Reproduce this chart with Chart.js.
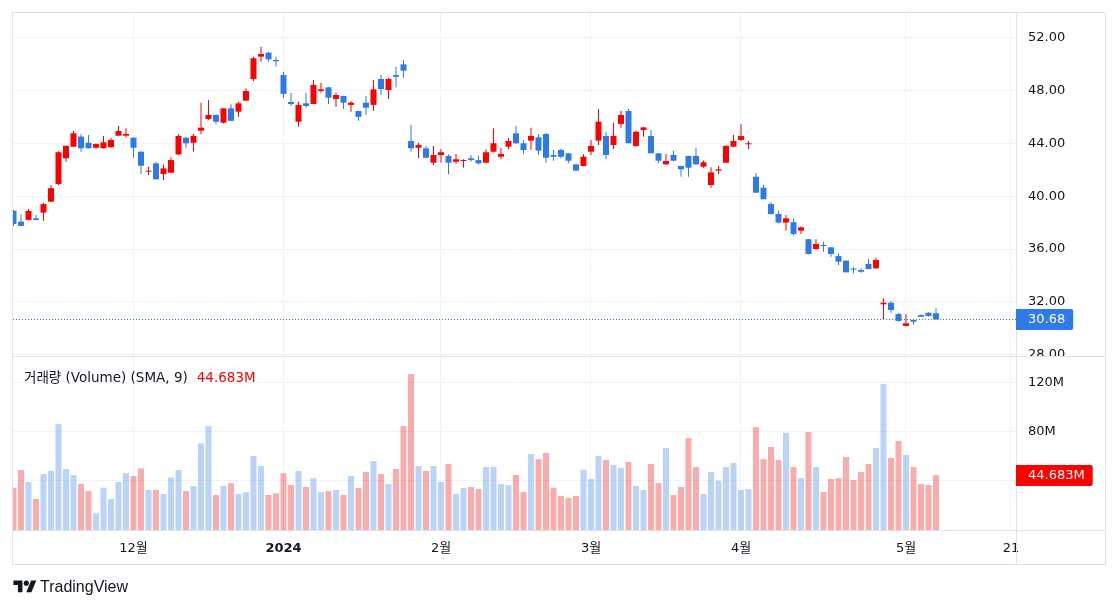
<!DOCTYPE html>
<html><head><meta charset="utf-8">
<script src="https://cdn.jsdelivr.net/npm/chart.js@4"></script>
<style>
html,body{margin:0;padding:0;background:#fff;}
#wrap{position:relative;width:1118px;height:609px;overflow:hidden;background:#fff;}
#c{position:absolute;left:0;top:0;}
#legend{position:absolute;left:24px;top:368px;font:13.5px 'DejaVu Sans','Noto Sans CJK KR',sans-serif;color:#131722;white-space:nowrap;line-height:18px;}
#legend .v{color:#ff0000;margin-left:9px;}
#logo{position:absolute;left:13px;top:577px;height:20px;display:flex;align-items:center;font:16px 'Liberation Sans',sans-serif;color:#131722;}
#logo svg{margin-right:3px;}
</style></head>
<body><div id="wrap"><canvas id="c" width="1118" height="609"></canvas>
<div id="legend"><span id="ltext">거래량 (Volume) (SMA, 9)</span><span class="v" id="lval"></span></div>
<div id="logo"><svg width="24" height="18" viewBox="0 0 36 28"><path d="M14 22H7V11H0V4h14v18zM28 22h-8l7.5-18h8L28 22z" fill="#131722"/><circle cx="20" cy="8" r="4" fill="#131722"/></svg>TradingView</div>
</div>
<script>
// ---- data ----
const dates = [
 '2023-11-08','2023-11-09','2023-11-10','2023-11-13','2023-11-14','2023-11-15','2023-11-16','2023-11-17','2023-11-20','2023-11-21','2023-11-22','2023-11-24','2023-11-27','2023-11-28','2023-11-29','2023-11-30',
 '2023-12-01','2023-12-04','2023-12-05','2023-12-06','2023-12-07','2023-12-08','2023-12-11','2023-12-12','2023-12-13','2023-12-14','2023-12-15','2023-12-18','2023-12-19','2023-12-20','2023-12-21','2023-12-22','2023-12-26','2023-12-27','2023-12-28','2023-12-29',
 '2024-01-02','2024-01-03','2024-01-04','2024-01-05','2024-01-08','2024-01-09','2024-01-10','2024-01-11','2024-01-12','2024-01-16','2024-01-17','2024-01-18','2024-01-19','2024-01-22','2024-01-23','2024-01-24','2024-01-25','2024-01-26','2024-01-29','2024-01-30','2024-01-31',
 '2024-02-01','2024-02-02','2024-02-05','2024-02-06','2024-02-07','2024-02-08','2024-02-09','2024-02-12','2024-02-13','2024-02-14','2024-02-15','2024-02-16','2024-02-20','2024-02-21','2024-02-22','2024-02-23','2024-02-26','2024-02-27','2024-02-28','2024-02-29',
 '2024-03-01','2024-03-04','2024-03-05','2024-03-06','2024-03-07','2024-03-08','2024-03-11','2024-03-12','2024-03-13','2024-03-14','2024-03-15','2024-03-18','2024-03-19','2024-03-20','2024-03-21','2024-03-22','2024-03-25','2024-03-26','2024-03-27','2024-03-28',
 '2024-04-01','2024-04-02','2024-04-03','2024-04-04','2024-04-05','2024-04-08','2024-04-09','2024-04-10','2024-04-11','2024-04-12','2024-04-15','2024-04-16','2024-04-17','2024-04-18','2024-04-19','2024-04-22','2024-04-23','2024-04-24','2024-04-25','2024-04-26','2024-04-29','2024-04-30',
 '2024-05-01','2024-05-02','2024-05-03','2024-05-06','2024-05-07'
];
const open = [
 38.90,38.07,38.20,38.32,38.75,39.58,40.92,42.86,43.74,44.50,44.04,43.66,43.62,43.70,44.57,44.57,
 44.42,43.36,41.85,42.48,41.67,41.77,43.16,44.42,44.04,44.95,45.84,46.14,45.56,46.64,46.39,47.22,48.86,50.55,50.85,50.30,
 49.16,47.12,45.63,47.02,46.97,47.95,48.23,47.35,47.58,46.90,46.44,47.07,46.90,48.86,48.03,49.16,49.97,44.17,43.66,43.62,42.53,
 43.11,43.04,42.60,42.66,42.86,42.73,42.53,43.36,42.98,43.74,44.75,44.00,44.20,44.45,44.70,43.11,43.49,43.24,42.40,42.28,
 43.36,44.20,44.55,43.87,45.46,46.44,43.80,45.00,44.55,43.24,42.40,43.11,42.28,43.04,43.04,42.23,40.84,41.93,42.53,43.74,
 44.25,43.92,41.47,40.64,39.40,38.65,38.00,38.03,37.39,36.74,36.00,36.30,36.13,35.47,35.12,34.52,34.41,34.87,34.54,31.82,31.94,31.09,
 30.18,30.63,31.01,31.18,31.14
];
const high = [
 38.95,38.60,39.03,38.57,39.50,40.84,43.40,43.85,44.93,44.68,44.62,44.00,44.55,44.42,45.30,45.13,
 44.45,43.40,42.23,42.60,42.40,42.94,44.68,44.45,44.70,47.07,47.27,46.20,46.64,46.95,47.14,48.16,50.55,51.30,50.90,50.55,
 49.41,47.83,47.14,47.83,48.79,48.58,48.25,47.83,47.60,47.20,46.46,47.58,48.79,49.16,48.96,49.79,50.30,45.38,44.04,43.80,43.80,
 43.57,43.17,43.19,42.79,43.11,43.05,43.55,45.13,43.66,44.40,45.30,44.25,45.18,44.70,44.75,43.49,43.60,43.25,42.45,43.17,
 44.25,46.59,44.87,45.56,46.46,46.59,44.92,45.25,45.00,43.26,43.19,43.44,42.30,43.06,43.66,42.70,42.18,42.28,43.85,44.62,
 45.43,44.17,41.75,40.85,39.55,38.90,38.57,38.30,37.70,36.76,36.74,36.55,36.15,35.67,35.14,34.66,34.55,35.25,35.34,32.27,32.07,31.15,
 31.09,30.66,31.06,31.22,31.52
];
const low = [
 37.74,37.70,38.15,38.15,38.14,39.55,40.85,42.60,43.70,43.36,43.60,43.60,43.60,43.68,44.55,44.42,
 42.90,41.67,41.60,41.27,41.22,41.75,43.10,43.66,43.36,44.68,45.76,45.43,45.50,45.65,46.00,47.20,48.70,50.17,50.17,49.80,
 47.40,46.82,45.25,46.69,46.95,47.83,46.97,46.77,46.59,46.39,45.70,46.14,46.46,47.65,47.35,48.23,48.96,43.36,42.86,42.88,42.36,
 42.53,41.65,42.43,42.15,42.60,42.40,42.50,43.30,42.79,43.55,43.92,43.17,43.49,43.11,42.53,42.68,42.85,42.50,41.90,42.25,
 43.11,43.87,42.79,43.57,45.18,44.00,43.72,44.50,43.24,42.50,42.38,42.66,41.47,41.47,42.38,42.15,40.64,41.65,42.50,43.70,
 44.17,43.54,40.26,39.76,38.60,37.95,37.39,37.05,37.14,35.60,35.95,35.80,35.42,34.79,34.22,34.16,34.20,34.45,34.50,30.68,31.18,30.50,
 30.15,30.30,30.85,30.88,30.66
];
const close = [
 37.90,37.75,38.88,38.20,39.40,40.60,43.32,43.80,44.75,43.62,43.62,43.94,44.07,44.25,44.93,44.70,
 43.66,42.30,41.93,41.27,42.10,42.73,44.55,44.00,44.55,45.18,46.14,45.63,46.64,45.70,47.02,47.95,50.43,50.75,50.35,50.20,
 47.73,46.97,46.90,46.82,48.41,48.08,47.45,47.65,47.07,47.07,46.00,46.69,48.08,48.10,48.86,49.03,49.49,43.62,43.87,42.90,43.11,
 43.32,42.53,42.79,42.73,42.73,42.48,43.32,44.00,43.19,44.17,44.00,43.49,44.55,43.44,42.90,42.98,42.98,42.68,41.93,42.98,
 43.80,45.63,43.11,44.55,46.14,44.00,44.87,45.20,43.24,42.68,42.66,42.68,42.03,42.15,42.40,42.56,41.80,42.03,43.80,44.17,
 44.55,44.00,40.26,39.76,38.65,38.00,38.32,37.14,37.64,35.62,36.38,36.23,35.62,35.04,34.24,34.44,34.28,34.49,35.17,31.94,31.39,30.56,
 30.38,30.50,30.88,30.93,30.68
];
// volume in millions
const volume = [
 34.5,49.0,39.2,25.3,45.7,48.2,86.5,49.8,44.9,37.5,31.8,13.6,34.5,25.3,39.2,46.3,
 44.1,50.3,32.7,32.7,29.4,43.0,49.0,31.8,35.9,70.7,84.9,28.6,35.9,38.1,29.4,30.8,60.4,52.2,28.6,29.9,
 46.3,36.7,48.2,35.1,42.2,30.8,31.8,32.7,28.6,44.1,34.3,47.3,56.3,45.7,37.5,49.8,84.9,127.3,52.2,48.2,52.2,
 39.2,53.9,29.4,34.3,35.1,33.5,51.4,51.4,37.5,36.7,44.9,31.0,62.0,57.9,62.9,34.5,27.8,26.1,27.8,49.0,
 41.6,60.4,57.1,53.1,50.6,55.5,35.9,32.7,53.9,38.4,66.9,28.6,35.1,75.1,51.4,29.4,47.3,40.3,51.4,54.7,
 32.7,33.5,84.1,57.9,67.8,57.1,79.4,51.4,42.4,80.0,51.4,31.0,41.6,42.4,59.6,40.8,47.3,53.9,66.9,119.2,58.8,72.7,
 61.2,51.4,37.5,36.7,44.683
];
const priceTicks = [28, 32, 36, 40, 44, 48, 52];
const volTicks = [40, 80, 120];
const volTickLabels = ['', '80M', '120M'];
const timeTickIndex = [16, 36, 57, 77, 97, 119, 133];
const timeTickLabels = ['12월', '2024', '2월', '3월', '4월', '5월', '21'];

// ---- styling ----
const FONT = "'DejaVu Sans','Noto Sans CJK KR',sans-serif";
const UP = '#ff0000', DOWN = '#2d7be8';
const VOL_UP = 'rgba(45,123,232,0.33)', VOL_DOWN = 'rgba(240,0,0,0.33)';
const GRID = '#f0f3fa', LINE = '#e0e3eb', TEXT = '#131722';
const isUp = i => close[i] >= open[i];
const candleColor = ctx => isUp(ctx.dataIndex) ? UP : DOWN;
const last = close.length - 1;
document.getElementById('lval').textContent = volume[last].toFixed(3) + 'M';

const noPad = s => { s.paddingTop = 0; s.paddingBottom = 0; s.paddingLeft = 0; s.paddingRight = 0; };

const deco = {
  id: 'deco',
  afterDraw(chart) {
    const c = chart.ctx, a = chart.chartArea;
    const yS = chart.scales.y, vS = chart.scales.yVol, xS = chart.scales.x;
    const R = 1105, B = 564, L = 13, T = 13;
    c.save();
    // hide the part of the lowest price label that falls in the volume pane
    c.fillStyle = '#fff';
    c.fillRect(a.right + 1, Math.round(vS.top) + 1, R - a.right - 2, 10);
    // pane separator, time-axis line, price-axis line
    c.strokeStyle = LINE; c.lineWidth = 1;
    c.beginPath();
    c.moveTo(L, Math.round(vS.top) + 0.5); c.lineTo(R, Math.round(vS.top) + 0.5);
    c.moveTo(L, Math.round(xS.top) + 0.5); c.lineTo(R, Math.round(xS.top) + 0.5);
    c.moveTo(Math.round(a.right) + 0.5, T); c.lineTo(Math.round(a.right) + 0.5, B);
    c.stroke();
    // outer frame
    c.strokeRect(L - 0.5, T - 0.5, R - L + 1, B - T + 1);
    // last price line
    const lc = isUp(last) ? UP : DOWN;
    const py = Math.round(yS.getPixelForValue(close[last])) + 0.5;
    c.strokeStyle = lc; c.setLineDash([1, 2]);
    c.beginPath(); c.moveTo(a.left, py); c.lineTo(a.right, py); c.stroke();
    c.setLineDash([]);
    // badges
    c.font = '13px ' + FONT; c.textBaseline = 'middle';
    const badge = (yc, color, text) => {
      const w = c.measureText(text).width + 20, h = 21, x = Math.round(a.right);
      c.fillStyle = color;
      c.beginPath(); c.roundRect(x, Math.round(yc - h / 2), w, h, [0, 2, 2, 0]); c.fill();
      c.fillStyle = '#fff'; c.fillText(text, x + 12, Math.round(yc - h / 2) + h / 2 + 0.5);
    };
    badge(yS.getPixelForValue(close[last]), lc, close[last].toFixed(2));
    badge(vS.getPixelForValue(volume[last]), '#ff0000', volume[last].toFixed(3) + 'M');
    c.restore();
  }
};

const xy = (arr) => arr.map((v, i) => ({ x: i, y: v }));

new Chart(document.getElementById('c'), {
  type: 'bar',
  data: {
    datasets: [
      { label: 'body', data: open.map((o, i) => ({ x: i, y: [o, close[i]] })), yAxisID: 'y',
        backgroundColor: candleColor, grouped: false, barPercentage: 0.8, categoryPercentage: 1,
        minBarLength: 1, inflateAmount: 0, borderWidth: 0, order: 1 },
      { label: 'wick', data: low.map((l, i) => ({ x: i, y: [l, high[i]] })), yAxisID: 'y',
        backgroundColor: candleColor, grouped: false, maxBarThickness: 1,
        inflateAmount: 0, borderWidth: 0, order: 2 },
      { label: 'volume', data: xy(volume), yAxisID: 'yVol',
        backgroundColor: ctx => isUp(ctx.dataIndex) ? VOL_UP : VOL_DOWN,
        grouped: false, barPercentage: 0.8, categoryPercentage: 1, inflateAmount: 0, borderWidth: 0, order: 3 }
    ]
  },
  options: {
    responsive: false, animation: false, devicePixelRatio: 1,
    layout: { padding: { left: 13, top: 13, right: 13, bottom: 45 } },
    plugins: { legend: { display: false }, tooltip: { enabled: false } },
    scales: {
      x: {
        type: 'linear', position: 'bottom', bounds: 'data', min: -0.0667, max: 133.667, offset: false,
        afterBuildTicks: s => { s.ticks = timeTickIndex.map(v => ({ value: v })); },
        afterFit: s => { s.height = 34; noPad(s); },
        ticks: { autoSkip: false, maxRotation: 0, padding: 11, color: TEXT,
          font: ctx => ({ family: FONT, size: 13, weight: /^\d{4}$/.test(timeTickLabels[ctx.index] || '') ? 'bold' : 'normal' }),
          callback: (v, i) => timeTickLabels[i] },
        grid: { color: GRID, drawTicks: false, offset: false }, border: { display: false }
      },
      y: {
        type: 'linear', position: 'right', stack: 'panes', stackWeight: 343, bounds: 'data',
        min: 27.908, max: 53.853,
        afterBuildTicks: s => { s.ticks = priceTicks.map(v => ({ value: v })); },
        afterFit: s => { s.width = 89; noPad(s); },
        ticks: { padding: 12, color: TEXT, font: { family: FONT, size: 13 }, callback: v => v.toFixed(2) },
        grid: { color: GRID, drawTicks: false }, border: { display: false }
      },
      yVol: {
        type: 'linear', position: 'right', stack: 'panes', stackWeight: 174, bounds: 'data',
        min: 0, max: 142.04,
        afterBuildTicks: s => { s.ticks = volTicks.map(v => ({ value: v })); },
        afterFit: s => { s.width = 89; noPad(s); },
        ticks: { padding: 12, color: TEXT, font: { family: FONT, size: 13 }, callback: (v, i) => volTickLabels[i] },
        grid: { color: GRID, drawTicks: false }, border: { display: false }
      }
    }
  },
  plugins: [deco]
});
</script>
</body></html>
